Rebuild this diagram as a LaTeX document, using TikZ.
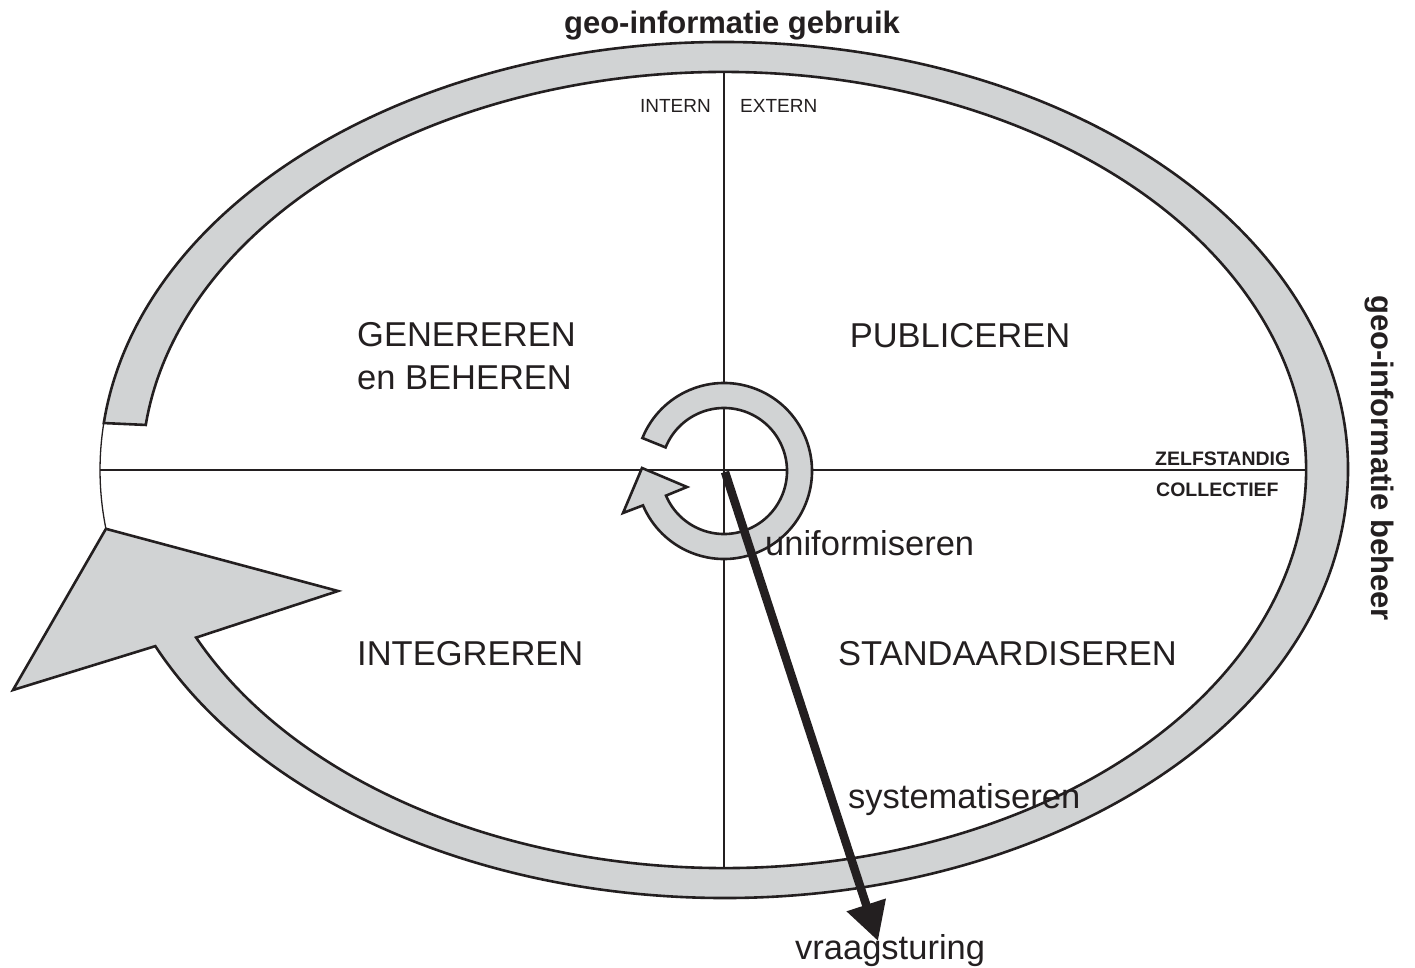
\documentclass[tikz,border=0pt]{standalone}
\usepackage{fontspec}
\setmainfont{Liberation Sans}
\usetikzlibrary{arrows.meta,calc}
\definecolor{bandgray}{RGB}{209,211,212}
\definecolor{ink}{RGB}{35,31,32}
\tikzset{
  band/.style={fill=bandgray, draw=ink, line width=2.6pt, line join=miter},
  thinline/.style={draw=ink, line width=1.3pt},
  biglabel/.style={font=\fontsize{34.5}{43}\selectfont, text=ink, inner sep=0pt},
  smalllabel/.style={font=\fontsize{19}{22}\selectfont, text=ink, inner sep=0pt},
  boldsmall/.style={font=\bfseries\fontsize{19.5}{22}\selectfont, text=ink, inner sep=0pt},
  titlelabel/.style={font=\bfseries\fontsize{31}{36}\selectfont, text=ink, inner sep=0pt},
  demandarrow/.style={draw=ink, line width=8.5pt, -{Triangle[length=38pt,width=39pt]}}
}
\begin{document}
\begin{tikzpicture}[x=1pt,y=-1pt]
\useasboundingbox (0,0) rectangle (1415,968);
\coordinate (O) at (724,470);
\coordinate (C) at (724,471);
\coordinate (L) at (100,470);
\coordinate (R) at (1306,470);
\coordinate (T) at (724,73);
\coordinate (B) at (724,868);
\coordinate (start) at (725,472);
\coordinate (tip) at (878,941);
% axes
\draw[thinline] (L) -- (R);
\draw[thinline] (T) -- (B);
% thin part of the outer ellipse
\draw[thinline] ($(O)+(172.1:624 and 428)$) arc[start angle=172.1, end angle=186.6, x radius=624, y radius=428];
% big gray band with arrow head
\filldraw[band] ($(O)+(186.3:624 and 428)$)
  arc[start angle=186.3, end angle=515.7, x radius=624, y radius=428]
  -- (13,690) -- ($(O)+(172.1:624 and 428)$) -- (338,591)
  -- ($(O)+(515.1:582 and 398)$)
  arc[start angle=515.1, end angle=186.5, x radius=582, y radius=398]
  -- cycle;
% central circular arrow
\filldraw[band] ($(C)+(202:88)$)
  arc[start angle=202, end angle=517, radius=88]
  -- (623,513) -- (642,468) -- (687,487)
  -- ($(C)+(517:63)$)
  arc[start angle=517, end angle=202, radius=63]
  -- cycle;
% demand arrow
\draw[demandarrow] (start) -- (tip);
% labels
\node[titlelabel, anchor=base] (gebruik) at (732,34) {geo-informatie gebruik};
\node[titlelabel, anchor=base west, rotate=-90] (beheer) at (1371,295) {geo-informatie beheer};
\node[smalllabel, anchor=base east] (intern) at (711,113) {INTERN};
\node[smalllabel, anchor=base west] (extern) at (740,113) {EXTERN};
\node[boldsmall, anchor=base west] (zelf) at (1155,465) {ZELFSTANDIG};
\node[boldsmall, anchor=base west] (coll) at (1156,496) {COLLECTIEF};
\node[biglabel, anchor=north west, align=left] (gen) at (357,322) {GENEREREN\\en BEHEREN};
\node[biglabel, anchor=base] (pub) at (960,347) {PUBLICEREN};
\node[biglabel, anchor=base west] (int) at (357,665) {INTEGREREN};
\node[biglabel, anchor=base west] (std) at (838,665) {STANDAARDISEREN};
\node[biglabel, anchor=base west] (uni) at (765,555) {uniformiseren};
\node[biglabel, anchor=base west] (sys) at (848,808) {systematiseren};
\node[biglabel, anchor=base west] (vraag) at (795,959) {vraagsturing};
\end{tikzpicture}
\end{document}
